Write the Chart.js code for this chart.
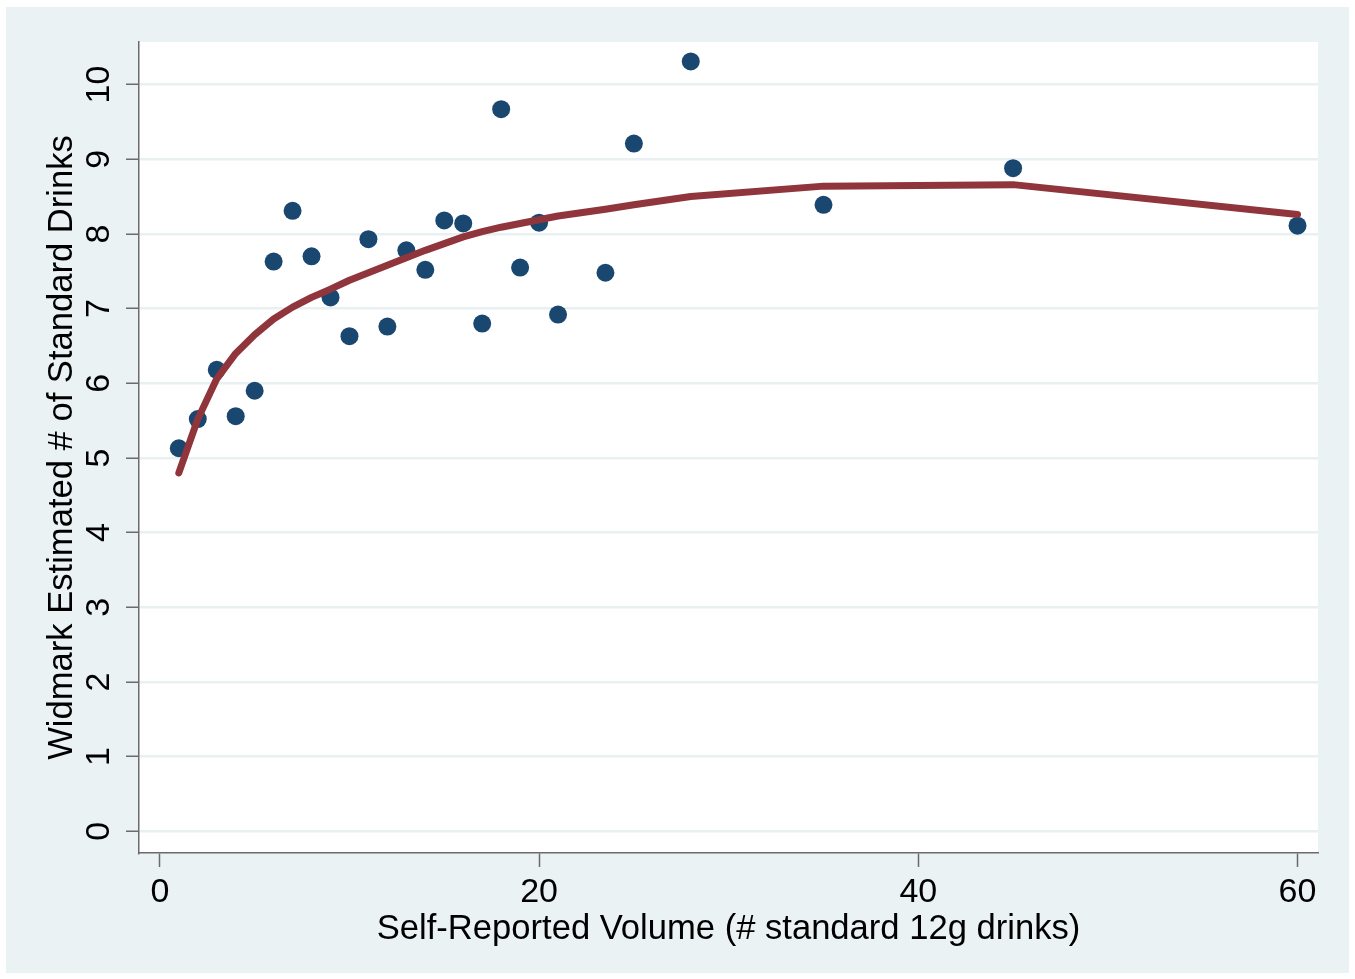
<!DOCTYPE html>
<html>
<head>
<meta charset="utf-8">
<title>Widmark estimate vs self-reported volume</title>
<script src="https://cdn.jsdelivr.net/npm/chart.js@4"></script>
<style>
  html, body { margin: 0; padding: 0; background: #fff; }
  canvas { display: block; }
</style>
</head>
<body>
<canvas id="widmarkChart" width="1355" height="979"></canvas>
<script>
// self-reported drinks (x) and Widmark estimates (y)
const volumes = [1, 2, 3, 4, 5, 6, 7, 8, 9, 10, 11, 12, 13, 14, 15, 16, 17, 18, 19, 20, 21, 23.5, 25, 28, 35, 45, 60];
const widmark = [5.13, 5.52, 6.18, 5.56, 5.90, 7.63, 8.31, 7.70, 7.15, 6.63, 7.93, 6.76, 7.78, 7.52, 8.18, 8.14, 6.80, 9.67, 7.55, 8.15, 6.92, 7.48, 9.21, 10.31, 8.39, 8.88, 8.11];
// fitted curve at each x
const fitted = [4.80, 5.52, 6.06, 6.40, 6.65, 6.86, 7.02, 7.15, 7.26, 7.38, 7.48, 7.58, 7.68, 7.78, 7.87, 7.96, 8.03, 8.09, 8.14, 8.19, 8.24, 8.33, 8.39, 8.50, 8.64, 8.66, 8.26];

const xTicks = [0, 20, 40, 60];
const yTicks = [0, 1, 2, 3, 4, 5, 6, 7, 8, 9, 10];
const xTitle = "Self-Reported Volume (# standard 12g drinks)";
const yTitle = "Widmark Estimated # of Standard Drinks";

const TICK_FONT = "34px 'Liberation Sans', Arial, Helvetica, sans-serif";
const TITLE_FONT = "34.6px 'Liberation Sans', Arial, Helvetica, sans-serif";

const stataFrame = {
    id: "stataFrame",
    beforeDraw(chart) {
        const { ctx, chartArea: a } = chart;
        ctx.save();
        ctx.fillStyle = "#ffffff";
        ctx.fillRect(0, 0, chart.width, chart.height);
        ctx.fillStyle = "#eaf2f3";
        ctx.fillRect(6, 7, 1343, 966);
        ctx.fillStyle = "#ffffff";
        ctx.fillRect(a.left, a.top, a.right - a.left, a.bottom - a.top);
        ctx.restore();
    },
    afterDraw(chart) {
        const { ctx, chartArea: a } = chart;
        const xs = chart.scales.x, ys = chart.scales.y;
        ctx.save();
        ctx.fillStyle = "#000";
        ctx.font = TICK_FONT;
        ctx.textAlign = "center";
        ctx.textBaseline = "middle";
        xs.ticks.forEach(t => ctx.fillText(String(t.value), xs.getPixelForValue(t.value), 893));
        ys.ticks.forEach(t => {
            ctx.save();
            ctx.translate(100, ys.getPixelForValue(t.value));
            ctx.rotate(-Math.PI / 2);
            ctx.fillText(String(t.value), 0, 0);
            ctx.restore();
        });
        ctx.font = TITLE_FONT;
        ctx.fillText(xTitle, (a.left + a.right) / 2, 929);
        ctx.translate(62, (a.top + a.bottom) / 2);
        ctx.rotate(-Math.PI / 2);
        ctx.fillText(yTitle, 0, 0);
        ctx.restore();
    }
};

const ctx = document.getElementById("widmarkChart").getContext("2d");
new Chart(ctx, {
    type: "scatter",
    data: {
        datasets: [
            {
                type: "line",
                label: "Fitted",
                data: volumes.map((v, i) => ({ x: v, y: fitted[i] })),
                borderColor: "#90353b",
                borderWidth: 7,
                borderCapStyle: "round",
                borderJoinStyle: "round",
                pointRadius: 0,
                tension: 0,
                fill: false,
                order: 1
            },
            {
                label: "Widmark",
                data: volumes.map((v, i) => ({ x: v, y: widmark[i] })),
                backgroundColor: "#1a476f",
                borderColor: "#1a476f",
                borderWidth: 0,
                pointRadius: 9,
                order: 2
            }
        ]
    },
    options: {
        responsive: false,
        animation: false,
        layout: { padding: { top: 42, right: 37, left: 0, bottom: 0 } },
        plugins: { legend: { display: false }, tooltip: { enabled: false } },
        scales: {
            x: {
                type: "linear",
                min: -1.1,
                max: 61.08,
                afterBuildTicks: s => { s.ticks = xTicks.map(v => ({ value: v })); },
                afterFit: s => { s.height = 126; },
                ticks: { display: false },
                grid: { drawOnChartArea: false, drawTicks: true, tickLength: 14, tickColor: "#6b6b6b", tickWidth: 1.5 },
                border: { color: "#6b6b6b", width: 1.5 }
            },
            y: {
                type: "linear",
                min: -0.29,
                max: 10.57,
                afterBuildTicks: s => { s.ticks = yTicks.map(v => ({ value: v })); },
                afterFit: s => { s.width = 139; },
                ticks: { display: false },
                grid: { color: "#e8f0f2", lineWidth: 2.5, drawTicks: true, tickLength: 13, tickColor: "#6b6b6b", tickWidth: 1.5 },
                border: { color: "#6b6b6b", width: 1.5 }
            }
        }
    },
    plugins: [stataFrame]
});
</script>
</body>
</html>
